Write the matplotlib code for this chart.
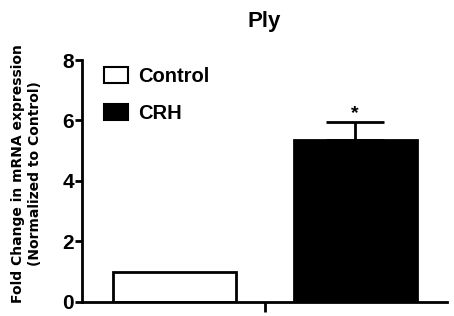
import numpy as np
import matplotlib.pyplot as plt
from matplotlib.patches import Patch

# data
groups = ["Control", "CRH"]
values = [1.0, 5.35]
errors = [0.0, 0.6]
colors = ["white", "black"]

plt.rcParams['font.family'] = ['Liberation Sans', 'DejaVu Sans']
plt.rcParams['font.weight'] = 'bold'

fig = plt.figure(figsize=(4.54, 3.16), dpi=100)
ax = fig.add_axes([0.181, 0.045, 0.804, 0.765])

x = np.arange(len(groups))
ax.bar(x, values, width=0.68, color=colors, edgecolor="black", linewidth=2)
# only upper error bar on CRH
ax.errorbar(x[1], values[1], yerr=[[0], [errors[1]]], fmt="none",
            ecolor="black", elinewidth=2, capsize=21, capthick=2)
ax.text(x[1], values[1] + errors[1] + 0.0, "*", ha="center", va="bottom",
        fontsize=14, fontweight="bold")

ax.set_xlim(-0.512, 1.51)
ax.set_ylim(0, 8)
ax.set_yticks([0, 2, 4, 6, 8])
ax.set_xticks([0.5])
ax.set_xticklabels([""])
ax.tick_params(axis="y", labelsize=15, width=2, length=5, pad=1)
ax.tick_params(axis="x", width=2, length=7)
for lab in ax.get_yticklabels():
    lab.set_fontweight("bold")

for side in ["top", "right"]:
    ax.spines[side].set_visible(False)
for side in ["left", "bottom"]:
    ax.spines[side].set_linewidth(2)

ax.set_ylabel("Fold Change in mRNA expression\n(Normalized to Control)",
              fontsize=10, fontweight="bold", linespacing=1.25,
              family=["DejaVu Sans"])
ax.yaxis.set_label_coords(-0.11, 0.53)

ax.set_title("Ply", fontsize=16, fontweight="bold", pad=24)

handles = [Patch(facecolor=c, edgecolor="black", linewidth=1.5) for c in colors]
ax.legend(handles, groups, loc="upper left", bbox_to_anchor=(0.01, 1.045),
          frameon=False, fontsize=14.5, handlelength=1.2, handleheight=0.85,
          handletextpad=0.5, labelspacing=0.9)

fig.savefig("out.png", dpi=100)
